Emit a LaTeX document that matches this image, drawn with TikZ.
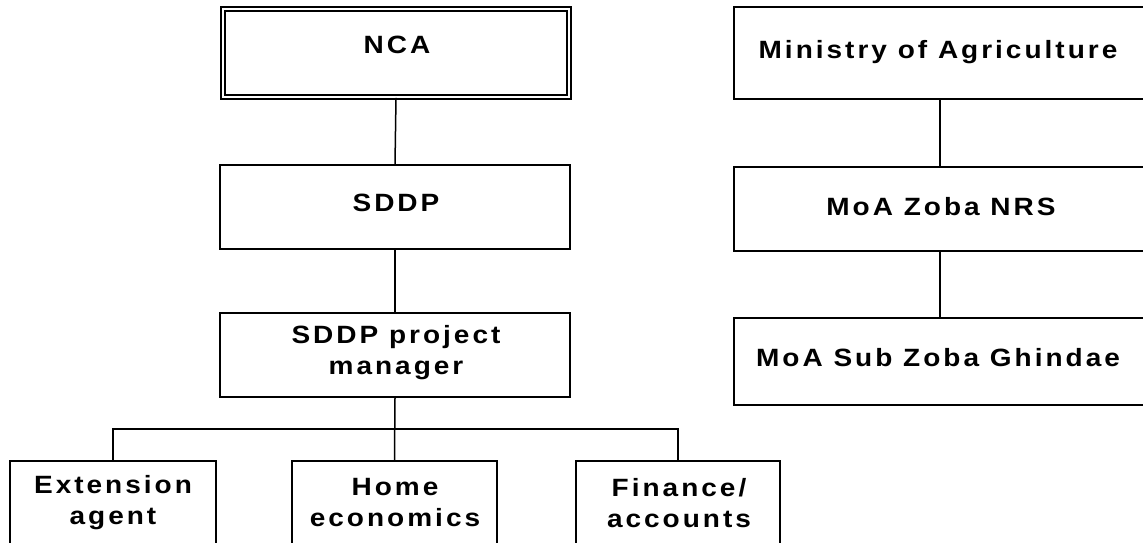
\documentclass[tikz,border=0pt]{standalone}
\usepackage{fontspec}
\setmainfont{Liberation Sans}[LetterSpace=12,FakeStretch=1.12,
  BoldFont={Liberation Sans Bold},BoldFeatures={LetterSpace=12,FakeStretch=1.12}]
\begin{document}
\begin{tikzpicture}[x=1pt,y=-1pt,
  box/.style={draw=black,line width=1.8pt,rectangle,inner sep=0pt},
  lbl/.style={font=\bfseries\fontsize{25}{31}\selectfont,align=center,inner sep=0pt},
  link/.style={draw=black,line width=1.5pt}]
\useasboundingbox (0,0) rectangle (1143,543);
\clip (0,0) rectangle (1143,543);

% left column
\node[box,double=white,line width=1.6pt,double distance=2.4pt,
      minimum width=345.5pt,minimum height=88pt] (nca) at (396,53) {};
\node[lbl] (nca-t) at (397,45) {NCA};
\node[box,minimum width=350pt,minimum height=84pt] (sddp) at (395,207) {};
\node[lbl] (sddp-t) at (396,203) {SDDP};
\node[box,minimum width=350pt,minimum height=84pt] (pm) at (395,355) {};
\node[lbl] (pm-t) at (396,353) {SDDP project\\manager};

% bottom row
\node[box,minimum width=206pt,minimum height=100pt] (ext) at (113,511) {};
\node[lbl] (ext-t) at (113,503) {Extension\\agent};
\node[box,minimum width=205pt,minimum height=100pt] (home) at (394.5,511) {};
\node[lbl] (home-t) at (395,503) {Home\\economics};
\node[box,minimum width=204pt,minimum height=100pt] (fin) at (678,511) {};
\node[lbl] (fin-t) at (679,503) {Finance/\\accounts};

% right column
\node[box,minimum width=412pt,minimum height=92pt] (moa) at (940,53) {};
\node[lbl] (moa-t) at (938,52) {Ministry of Agriculture};
\node[box,minimum width=412pt,minimum height=84pt] (nrs) at (940,209) {};
\node[lbl] (nrs-t) at (941,207) {MoA Zoba NRS};
\node[box,minimum width=412pt,minimum height=87pt] (sub) at (940,361.5) {};
\node[lbl] (sub-t) at (938,358) {MoA Sub Zoba Ghindae};

% connectors
\coordinate (bar) at (396,429);
\draw[link] (nca.south) -- (sddp.north);
\draw[link] (sddp.south) -- (pm.north);
\draw[link] (pm.south) -- (home.north);
\draw[link] (ext.north) |- (bar) -| (fin.north);
\draw[link] (moa.south) -- (nrs.north);
\draw[link] (nrs.south) -- (sub.north);
\end{tikzpicture}
\end{document}
